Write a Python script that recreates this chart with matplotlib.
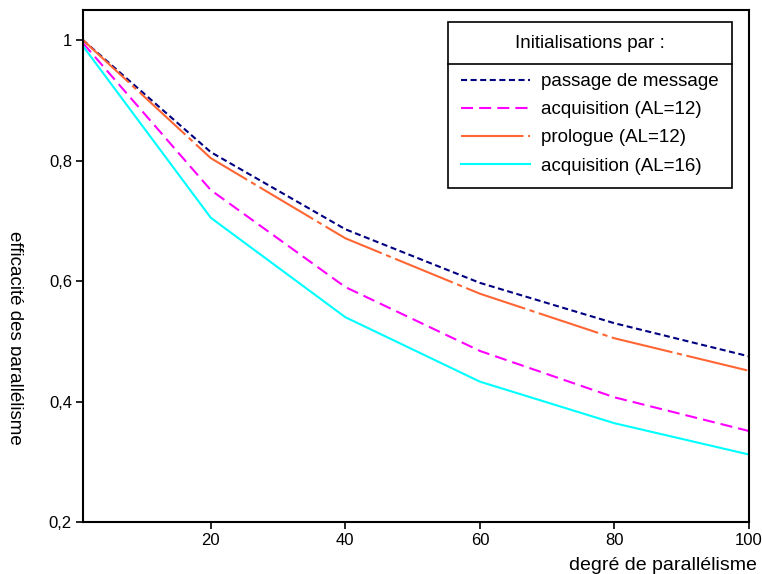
import matplotlib.pyplot as plt
from matplotlib.lines import Line2D
from matplotlib.patches import Rectangle

plt.rcParams['font.family'] = ['Liberation Sans', 'DejaVu Sans']

# degré de parallélisme
deg = [1, 20, 40, 60, 80, 100]

# efficacité pour chaque mode d'initialisation
passage = [1.0, 0.814, 0.686, 0.597, 0.530, 0.475]
acq12 = [0.995, 0.751, 0.590, 0.484, 0.407, 0.351]
prologue12 = [1.0, 0.804, 0.671, 0.579, 0.505, 0.451]
acq16 = [0.99, 0.705, 0.540, 0.433, 0.364, 0.312]

labels = ["passage de message", "acquisition (AL=12)",
          "prologue (AL=12)", "acquisition (AL=16)"]

xticks = [20, 40, 60, 80, 100]
yticks = [0.2, 0.4, 0.6, 0.8, 1.0]
yticklabels = ["0,2", "0,4", "0,6", "0,8", "1"]

W, H = 762, 574
fig = plt.figure(figsize=(W / 100, H / 100), dpi=100)
ax = fig.add_axes([83 / W, 52 / H, 666 / W, 512 / H])

lw = 1.5
ax.plot(deg, passage, color='#000080', lw=lw, linestyle=(0, (2.9, 1.7)),
        label=labels[0])
ax.plot(deg, acq12, color='#FF00FF', lw=lw, linestyle=(0, (5.8, 2.9)),
        label=labels[1])
ax.plot(deg, prologue12, color='#FF6633', lw=lw,
        linestyle=(0, (30, 2.2, 2.5, 2.2)), label=labels[2])
ax.plot(deg, acq16, color='#00FFFF', lw=lw, label=labels[3])

ax.set_xlim(1, 100)
ax.set_ylim(0.2, 1.05)
ax.set_xticks(xticks)
ax.set_xticklabels([str(t) for t in xticks])
ax.set_yticks(yticks)
ax.set_yticklabels(yticklabels)
ax.tick_params(labelsize=12, length=5, width=1.2, direction='out',
               top=False, right=False, pad=3)
for s in ax.spines.values():
    s.set_linewidth(1.5)

# titre de l'axe x, aligné à droite au-delà du cadre
fig.text(757 / W, 4 / H, "degré de parallélisme", ha='right',
         va='baseline', fontsize=14)

# étiquette verticale, rognée par le bord gauche
fig.text(10 / W, 1 - 338 / H, "efficacité des parallélisme",
         rotation=-90, rotation_mode='anchor', ha='center', va='baseline',
         fontsize=13.5)
fig.patches.append(Rectangle((0, 0), 11 / W, 1, transform=fig.transFigure,
                             facecolor='white', edgecolor='none', zorder=10))

leg = ax.legend(title="Initialisations par :", loc='upper right',
                bbox_to_anchor=(732 / W, 1 - 22 / H),
                bbox_transform=fig.transFigure,
                fontsize=13.5, title_fontsize=13.5, frameon=True,
                fancybox=False, edgecolor='black', framealpha=1,
                borderpad=0.7, labelspacing=0.59, handlelength=3.7,
                handletextpad=0.6, borderaxespad=0)
leg.get_frame().set_linewidth(1.2)
leg._legend_box.sep = 15

# trait séparant le titre de la légende
fig.canvas.draw()
fb = leg.get_frame().get_window_extent()
tb = leg.get_title().get_window_extent()
ysep = (tb.y0 + tb.y1) / 2 - 20
fig.add_artist(Line2D([fb.x0 / W, fb.x1 / W], [ysep / H, ysep / H],
                      transform=fig.transFigure, color='black', lw=1.2))

fig.savefig("out.png", dpi=100)
